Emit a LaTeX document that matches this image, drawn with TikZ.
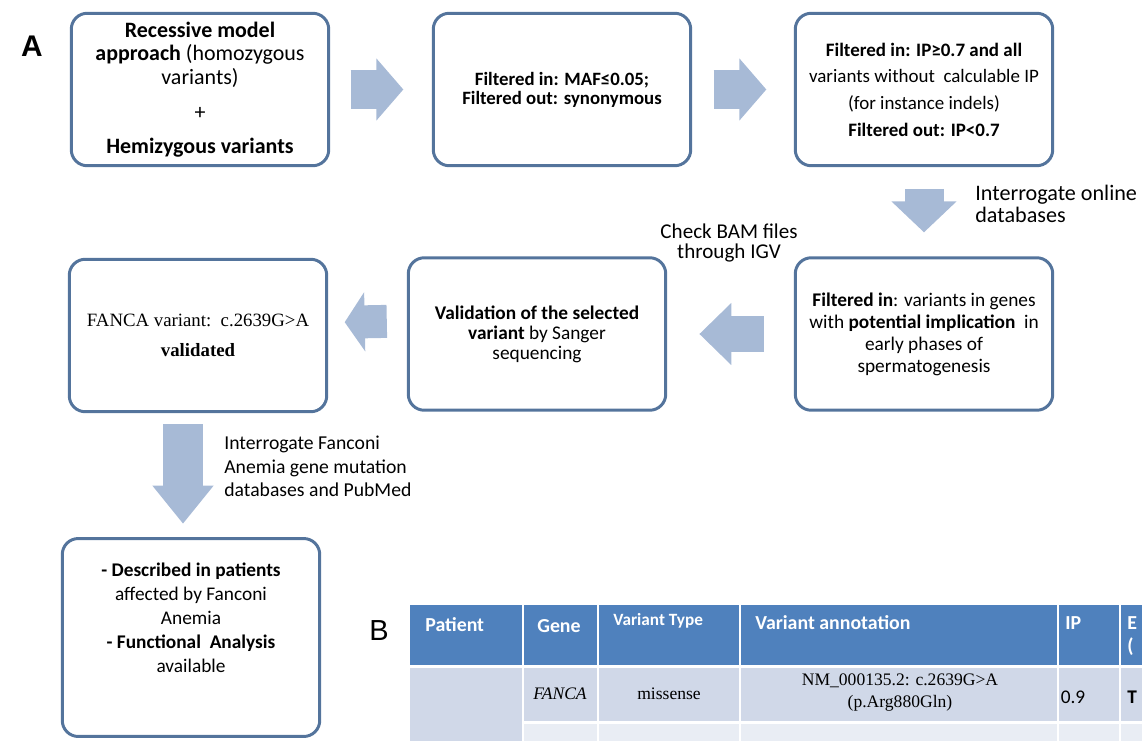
\documentclass[tikz,border=0pt]{standalone}
\usepackage{fontspec}
\setmainfont{Carlito}
\newfontfamily\timesfont{Liberation Serif}
\newfontfamily\arialfont{Liberation Sans}
\usetikzlibrary{arrows.meta}
\definecolor{boxline}{RGB}{84,116,156}
\definecolor{arrowfill}{RGB}{167,186,214}
\definecolor{headblue}{RGB}{79,129,189}
\definecolor{rowone}{RGB}{208,216,232}
\definecolor{rowtwo}{RGB}{233,237,244}
\tikzset{
  flowbox/.style={draw=boxline, line width=1.7pt, rounded corners=0.32cm,
    minimum width=5.15cm, minimum height=3.05cm, align=center, inner sep=0pt},
  blockarrow/.style n args={3}{draw=arrowfill, line width=#1,
    -{Triangle[length=#2, width=#3, line width=1.2pt]}},
  note/.style={inner sep=0pt},
  headtxt/.style={inner sep=0pt, text=white, font=\bfseries\fontsize{11.3}{12}\selectfont},
  celltxt/.style={inner sep=0pt, font=\timesfont\fontsize{10}{12}\selectfont}
}
\begin{document}
\begin{tikzpicture}[x=0.02cm, y=-0.02cm]
\useasboundingbox (0,0) rectangle (1142,740);
\clip (0,0) rectangle (1142,740);
% panel letters
\node[font=\arialfont\bfseries\fontsize{17}{17}\selectfont] (labA) at (32,46) {A};
\node[font=\arialfont\fontsize{16.5}{16}\selectfont] (labB) at (379,631) {B};

% boxes, first row
\node[flowbox, font=\fontsize{12.5}{13.6}\selectfont] (b1) at (200,89.5)
  {\textbf{Recessive model}\\ \textbf{approach} (homozygous\\ variants)\\[6pt] +\\[6pt] \textbf{Hemizygous variants}};
\node[flowbox, font=\bfseries\fontsize{10.7}{10.9}\selectfont] (b2) at (562,89.5)
  {Filtered in: MAF≤0.05;\\ Filtered out: synonymous};
\node[flowbox, font=\fontsize{10.8}{15.2}\selectfont] (b3) at (924,89.5)
  {\textbf{Filtered in: IP≥0.7 and all}\\ variants without\ \ calculable IP\\ (for instance indels)\\ \textbf{Filtered out: IP<0.7}};

% boxes, second row
\node[flowbox, font=\fontsize{11}{12.5}\selectfont] (b4) at (924,334)
  {\textbf{Filtered in}: variants in genes\\ with \textbf{potential implication}\ \ in\\ early phases of\\ spermatogenesis};
\node[flowbox, font=\fontsize{11}{11.4}\selectfont] (b5) at (537,334)
  {\textbf{Validation of the selected}\\ \textbf{variant} by Sanger\\ sequencing};
\node[flowbox, font=\timesfont\fontsize{10.7}{17}\selectfont] (b6) at (198,335.5)
  {FANCA variant:\ \ c.2639G>A\\ \textbf{validated}};

% last box
\node[flowbox, minimum height=3.96cm] (b7) at (191,637.5) {};
\node[note, align=center, font=\fontsize{11}{13.6}\selectfont] (b7text) at (191,618)
  {\textbf{- Described in patients}\\ affected by Fanconi\\ Anemia\\ \textbf{- Functional\ \ Analysis}\\ available};

% block arrows
\draw[blockarrow={0.8cm}{0.54cm}{1.24cm}, shorten <=0.41cm, shorten >=0.57cm] (b1) -- (b2);
\draw[blockarrow={0.8cm}{0.54cm}{1.24cm}, shorten <=0.43cm, shorten >=0.55cm] (b2) -- (b3);
\draw[blockarrow={0.78cm}{0.62cm}{1.3cm}, shorten <=0.435cm, shorten >=0.48cm] (b3) -- (b4);
\draw[blockarrow={0.72cm}{0.64cm}{1.24cm}, shorten <=0.6cm, shorten >=0.645cm] (b4) -- (b5);
\draw[blockarrow={0.66cm}{0.4cm}{1.18cm}, shorten <=0.4cm, shorten >=0.33cm]
  ([yshift=0.26cm]b5.west) -- ([yshift=0.26cm]b6.east);
\draw[blockarrow={0.8cm}{0.76cm}{1.22cm}, shorten <=0.22cm, shorten >=0.27cm]
  ([xshift=-0.3cm]b6.south) -- ([xshift=-0.3cm]b6.south |- b7.north);

% arrow labels
\node[note, anchor=west, align=left, font=\fontsize{12.6}{12.5}\selectfont] (qonline) at (975,204)
  {Interrogate online\\ databases};
\node[note, align=center, font=\fontsize{12}{11.4}\selectfont] (qbam) at (729,243)
  {Check BAM files\\ through IGV};
\node[note, anchor=west, align=left, font=\fontsize{11.2}{13.4}\selectfont] (qfanconi) at (224,466.5)
  {Interrogate Fanconi\\ Anemia gene mutation\\ databases and PubMed};

% table
\foreach \xa/\xb in {410/522, 524/597, 599/739, 741/1057, 1059/1119, 1121/1160}
  \fill[headblue] (\xa,605) rectangle (\xb,665);
\foreach \xa/\xb in {524/597, 599/739, 741/1057, 1059/1119, 1121/1160}{
  \fill[rowone] (\xa,668) rectangle (\xb,721);
  \fill[rowtwo] (\xa,724) rectangle (\xb,750);}
\fill[rowone] (410,668) rectangle (522,750);

\node[headtxt, anchor=west] (hpatient) at (425,625) {Patient};
\node[headtxt, anchor=west] (hgene) at (537,626) {Gene};
\node[headtxt, anchor=west, font=\bfseries\fontsize{9.8}{12}\selectfont] (htype) at (613,621) {Variant Type};
\node[headtxt, anchor=west] (hannot) at (755,623) {Variant annotation};
\node[headtxt, anchor=west] (hip) at (1065,623) {IP};
\node[headtxt, anchor=west] (hexon) at (1127,623) {E};
\node[headtxt, anchor=west] (hexonb) at (1127,647) {(};

\node[celltxt, font=\timesfont\itshape\fontsize{10}{12}\selectfont] (cgene) at (560,694) {FANCA};
\node[celltxt] (ctype) at (669,694) {missense};
\node[celltxt, align=center, font=\timesfont\fontsize{10}{12.5}\selectfont] (cannot) at (900,693)
  {NM\_000135.2: c.2639G>A\\ (p.Arg880Gln)};
\node[note, font=\fontsize{11}{12}\selectfont] (cip) at (1073,697) {0.9};
\node[note, anchor=west, font=\bfseries\fontsize{11}{12}\selectfont] (cexon) at (1127,697) {T};
\end{tikzpicture}
\end{document}
